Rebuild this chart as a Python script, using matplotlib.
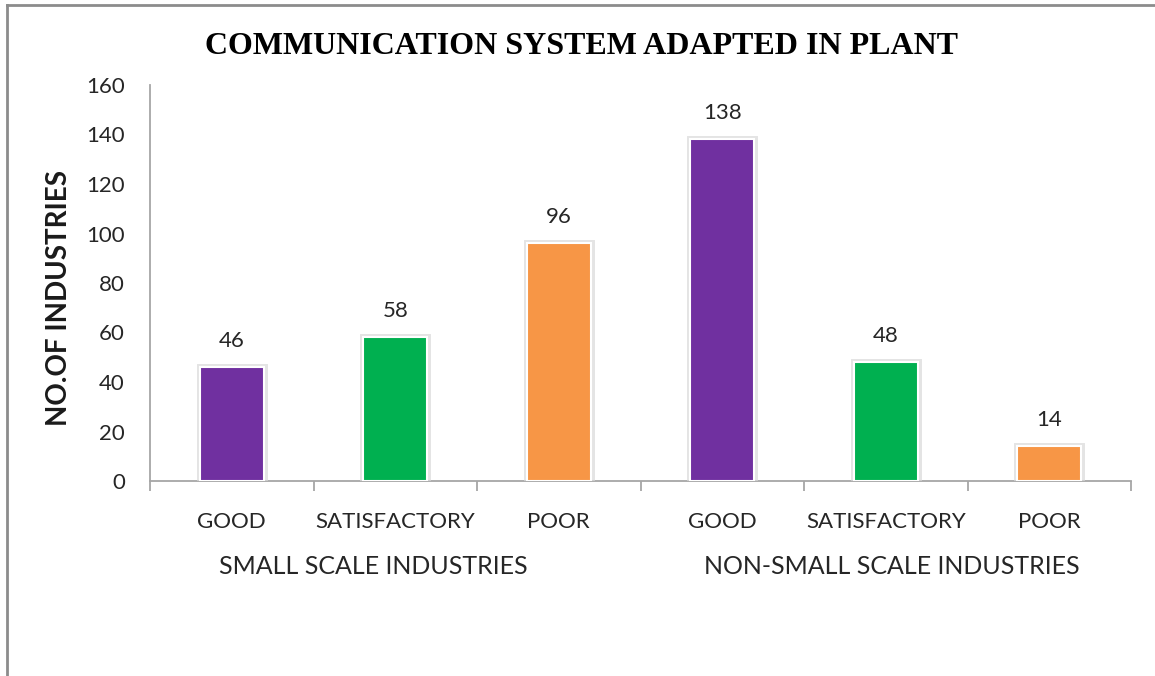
import matplotlib
matplotlib.use("Agg")
import matplotlib.pyplot as plt
import matplotlib.patheffects as pe
from matplotlib import transforms
from matplotlib.lines import Line2D

# Survey counts: communication system rating by industry group
ratings = ["GOOD", "SATISFACTORY", "POOR", "GOOD", "SATISFACTORY", "POOR"]
counts = [46, 58, 96, 138, 48, 14]
groups = ["SMALL SCALE INDUSTRIES", "NON-SMALL SCALE INDUSTRIES"]
bar_colors = ["#7030A0", "#00B050", "#F79646", "#7030A0", "#00B050", "#F79646"]
y_ticks = [0, 20, 40, 60, 80, 100, 120, 140, 160]

W, H = 1155, 676
fig = plt.figure(figsize=(W / 100, H / 100), dpi=100)
fig.patch.set_facecolor("white")

sans = ["Lato", "DejaVu Sans"]
ax = fig.add_axes([150 / W, 1 - 481 / H, (1131 - 150) / W, (481 - 85) / H])
ax.set_facecolor("white")

x = list(range(len(counts)))
glow = [pe.Stroke(linewidth=5, foreground="#d9d9d9", alpha=0.7), pe.Normal()]
bars = ax.bar(x, counts, width=0.39, color=bar_colors, edgecolor="white",
              linewidth=1.5, zorder=3)
for b in bars:
    b.set_path_effects(glow)

for xi, v in zip(x, counts):
    ax.annotate(str(v), (xi, v), xytext=(0, 26), textcoords="offset pixels",
                ha="center", va="center", fontsize=16, family=sans,
                color="#262626")

ax.set_xlim(-0.5, len(counts) - 0.5)
ax.set_ylim(0, 160)
ax.set_yticks(y_ticks)
ax.set_yticklabels([str(t) for t in y_ticks], fontsize=16, family=sans,
                   color="#262626")
ax.tick_params(axis="y", length=0, pad=18)

ax.set_xticks([])
ax.set_xticks([i - 0.5 for i in range(len(counts) + 1)], minor=True)
ax.tick_params(axis="x", which="minor", length=7, width=1.3, color="#a6a6a6",
               labelbottom=False)

for side in ("top", "right"):
    ax.spines[side].set_visible(False)
for side in ("left", "bottom"):
    ax.spines[side].set_color("#a6a6a6")
    ax.spines[side].set_linewidth(1.3)

trans = transforms.blended_transform_factory(ax.transData, fig.transFigure)
for xi, lab in zip(x, ratings):
    fig.text(xi, 1 - 522 / H, lab, transform=trans, ha="center", va="center",
             fontsize=16, family=sans, color="#262626")
for gx, g in zip([0.864, 4.04], groups):
    fig.text(gx, 1 - 567 / H, g, transform=trans, ha="center", va="center",
             fontsize=18, family=sans, color="#262626")

fig.text(59 / W, 1 - 298 / H, "NO.OF INDUSTRIES", rotation=90, ha="center",
         va="center", fontsize=20, fontweight="bold", family=sans,
         color="#1a1a1a")

fig.text(582 / W, 1 - 46 / H, "COMMUNICATION SYSTEM ADAPTED IN PLANT",
         ha="center", va="center", fontsize=23, fontweight="bold",
         family=["Liberation Serif", "DejaVu Serif"], color="black")

# chart frame (top and left edges are inside the image)
fig.add_artist(Line2D([7 / W, 1.0], [1 - 5 / H, 1 - 5 / H],
                      transform=fig.transFigure, color="#8c8c8c", linewidth=2))
fig.add_artist(Line2D([7 / W, 7 / W], [0.0, 1 - 5 / H],
                      transform=fig.transFigure, color="#8c8c8c", linewidth=2))

fig.savefig("out.png", dpi=100, facecolor="white")
